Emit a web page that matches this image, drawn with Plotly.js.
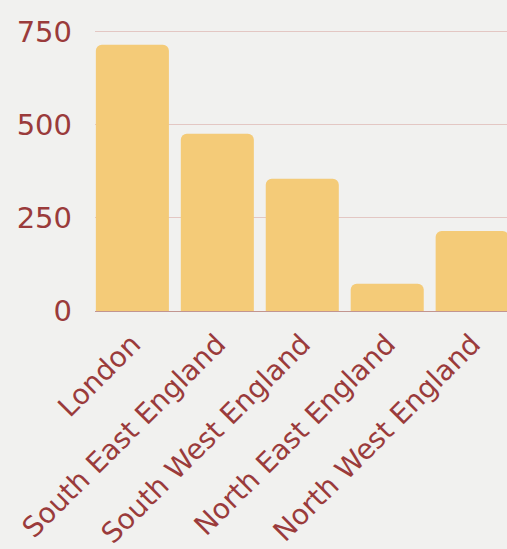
<!DOCTYPE html>
<html>
<head>
<meta charset="utf-8">
<script src="https://cdn.plot.ly/plotly-3.0.1.min.js"></script>
<style>
html,body{margin:0;padding:0;background:#f1f1ef;overflow:hidden;}
#chart{width:507px;height:549px;}
</style>
</head>
<body>
<div id="chart"></div>
<script>
const regions = ["London", "South East England", "South West England", "North East England", "North West England"];
const counts = [715, 476, 355, 73, 215];
const yTicks = [0, 250, 500, 750];

const trace = {
  type: 'bar',
  x: regions,
  y: counts,
  marker: {color: '#f4cb78', cornerradius: 6, line: {width: 0}},
  hoverinfo: 'none'
};

const layout = {
  width: 507,
  height: 549,
  margin: {l: 95, r: 0, t: 28, b: 238},
  paper_bgcolor: '#f1f1ef',
  plot_bgcolor: 'rgba(0,0,0,0)',
  bargap: 0.14,
  showlegend: false,
  font: {family: 'DejaVu Sans', color: '#9a3b3b'},
  xaxis: {
    type: 'category',
    range: [-0.44, 4.41],
    tickangle: -45,
    tickfont: {size: 28, color: '#9a3b3b', family: 'DejaVu Sans'},
    showgrid: false,
    showline: false,
    ticks: '',
    ticklabelstandoff: 10,
    fixedrange: true
  },
  yaxis: {
    range: [0, 760],
    tickvals: yTicks,
    ticktext: yTicks.map(String),
    tickfont: {size: 29, color: '#9a3b3b', family: 'DejaVu Sans'},
    showgrid: true,
    gridcolor: '#e3c7c3',
    gridwidth: 1,
    zeroline: true,
    zerolinecolor: '#c29590',
    zerolinewidth: 1,
    ticks: '',
    ticklabelstandoff: 22,
    fixedrange: true
  }
};

Plotly.newPlot('chart', [trace], layout, {displayModeBar: false, staticPlot: true});
</script>
</body>
</html>
